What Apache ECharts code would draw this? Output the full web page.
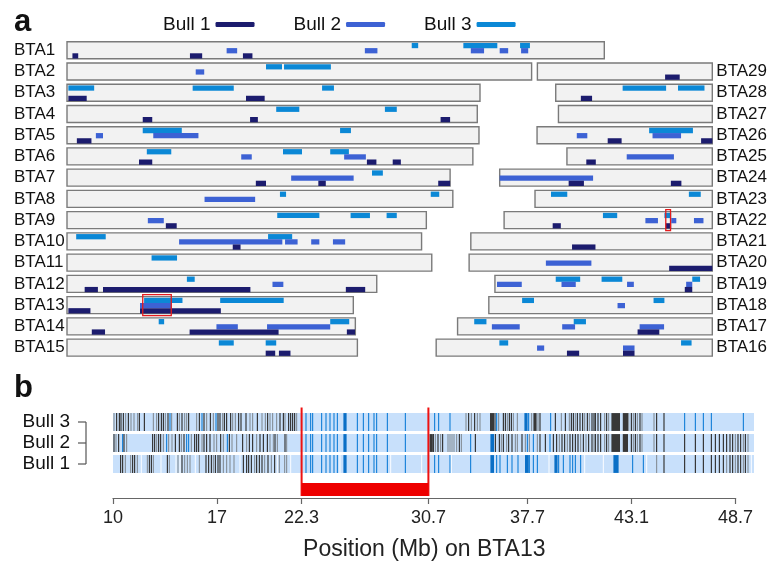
<!DOCTYPE html>
<html><head><meta charset="utf-8">
<script src="https://cdn.jsdelivr.net/npm/echarts@6/dist/echarts.min.js"></script>
<style>html,body{margin:0;padding:0;background:#fff}#c{width:771px;height:562px}</style>
</head><body><div id="c"></div><script>
const FONT = "'Liberation Sans', Arial, Helvetica, sans-serif";

// ---------- panel a data ----------
const chromNames = ['BTA1','BTA2','BTA3','BTA4','BTA5','BTA6','BTA7','BTA8','BTA9','BTA10','BTA11','BTA12','BTA13','BTA14','BTA15','BTA16','BTA17','BTA18','BTA19','BTA20','BTA21','BTA22','BTA23','BTA24','BTA25','BTA26','BTA27','BTA28','BTA29'];
const chromLengths = [158.2,136.8,121.6,120.8,121.3,119.5,112.8,113.6,105.8,104.4,107.4,91.2,84.3,84.9,85.5,81.3,75.0,65.8,64.0,71.6,71.1,61.3,52.2,62.6,42.8,51.6,45.3,46.1,51.5];
const bullNames = ['Bull 1','Bull 2','Bull 3'];
const bullColors = ['#1c1c6e','#3d62d4','#0b88d6'];
// [chromosome, start Mb, end Mb]
const bull1Segments = [
 [1,1.6,3.3],[1,36.2,39.8],[1,51.8,54.6],
 [3,0.4,5.8],[3,52.7,58.2],
 [4,22.3,25.1],[4,53.9,56.2],[4,110.0,112.8],
 [5,2.9,7.2],
 [6,21.2,25.1],[6,88.3,91.1],[6,95.9,98.3],
 [7,55.6,58.6],[7,74.0,76.2],[7,109.3,112.8],
 [9,29.1,32.3],
 [10,48.8,51.1],
 [12,5.2,9.1],[12,10.6,54.0],[12,82.1,87.8],
 [13,0.4,6.9],[13,21.5,45.3],
 [14,7.3,11.2],[14,36.1,62.3],[14,82.4,84.8],
 [15,58.5,61.3],[15,62.4,65.8],
 [16,38.5,42.1],[16,55.0,58.4],
 [17,53.0,59.4],
 [19,55.9,58.1],
 [20,58.9,71.6],
 [21,29.8,36.7],
 [22,14.3,16.7],[22,47.6,49.2],
 [24,20.3,24.8],[24,50.4,53.5],
 [25,5.7,8.5],
 [26,20.8,24.9],[26,48.3,51.6],
 [28,7.4,10.7],
 [29,37.6,41.9]
];
const bull2Segments = [
 [1,47.0,50.1],[1,87.7,91.4],[1,118.9,122.8],[1,127.4,129.9],[1,133.7,135.8],
 [2,37.9,40.4],
 [5,8.5,10.6],[5,25.4,38.7],
 [6,51.3,54.4],[6,81.6,88.0],
 [7,66.0,84.4],
 [8,40.5,55.4],
 [9,23.8,28.5],
 [10,33.0,63.4],[10,64.2,67.9],[10,71.9,74.3],[10,78.3,81.9],
 [12,60.5,63.7],
 [13,21.5,30.8],
 [14,44.0,50.3],[14,58.9,77.5],
 [16,29.7,31.8],[16,55.0,58.4],
 [17,10.1,18.3],[17,30.8,34.6],[17,53.6,60.8],
 [18,37.9,40.1],
 [19,0.6,7.9],[19,19.6,23.8],[19,38.9,40.9],[19,56.3,58.1],
 [20,22.6,36.0],
 [22,41.6,45.3],[22,49.2,50.7],[22,55.9,58.7],
 [24,0,27.5],
 [25,17.6,31.5],
 [26,11.7,14.8],[26,34.0,42.4]
];
const bull3Segments = [
 [1,101.5,103.4],[1,116.7,126.7],[1,133.4,136.3],
 [2,58.6,63.3],[2,63.9,77.7],
 [3,0.4,8.0],[3,37.0,49.1],[3,75.1,78.6],
 [4,61.6,68.4],[4,93.6,97.1],
 [5,22.3,33.8],[5,80.4,83.6],
 [6,23.5,30.7],[6,63.6,69.2],[6,77.5,83.0],
 [7,89.8,93.0],
 [8,62.7,64.5],[8,107.1,109.6],
 [9,61.9,74.3],[9,83.5,89.2],[9,94.1,97.1],
 [10,2.7,11.4],[10,59.2,66.3],
 [11,24.9,32.4],
 [12,35.3,37.6],
 [13,22.7,34.0],[13,45.1,63.8],
 [14,27.0,28.6],[14,77.5,83.1],
 [15,44.7,49.1],[15,58.5,61.6],
 [16,18.6,21.2],[16,72.1,75.2],
 [17,4.9,8.5],[17,34.2,37.8],
 [18,9.8,13.3],[18,48.5,51.7],
 [19,17.9,25.1],[19,31.4,37.5],[19,58.1,60.4],
 [22,29.1,33.3],[22,47.2,49.2],
 [23,4.7,9.5],[23,45.3,48.8],
 [26,33.0,45.9],
 [28,19.7,32.5],[28,36.0,43.8]
];
const highlightRegions = [[13,22.3,30.7],[22,47.6,49.0]];

// ---------- panel b data (marker index along BTA13) ----------
const tickIdx = [0, 52, 94.3, 157.7, 207.3, 259.3, 311.3];
const tickLabels = ['10','17','22.3','30.7','37.7','43.1','48.7'];
const stripEndIdx = 320.5;
const markTypes = ['d','g','b','B','w'];
const roiMarks = [[96.5,'b'],[98.8,'b'],[99.8,'b'],[104.3,'b'],[106.5,'b'],[108.5,'b'],[110.5,'b'],[112.2,'b'],[115.5,116.5,'B'],[122.2,'b'],[125.2,'b'],[127.8,'b'],[130.5,'b'],[131.8,'b'],[137.2,'b'],[146.2,'b']];
const bull3Marks = [[0.5,'g'],[1.8,'d'],[3.2,'d'],[4,'d'],[5.2,'d'],[6.3,'g'],[7.7,'d'],[9,'g'],[10.5,'g'],[12.3,'g'],[13.2,'d'],[15.7,'d'],[20.2,'g'],[21.8,'g'],[22.8,'d'],[24.2,'d'],[25.2,'d'],[26.2,'g'],[27.5,'d'],[28.5,'b'],[29.3,'g'],[32.2,'d'],[33.2,'g'],[34.5,'d'],[35.8,'g'],[36.8,'g'],[37.8,'d'],[41.8,'g'],[43.2,'d'],[44.5,'b'],[45.5,'d'],[46.8,'g'],[48.7,'d'],[50.2,'g'],[51.5,'b'],[52.5,'d'],[53.5,'d'],[54.8,'g'],[55.7,'d'],[56.8,'d'],[58.8,'d'],[59.8,'g'],[61.2,'g'],[62.8,'d'],[64,'d'],[66.5,'d'],[68.5,'g'],[69.8,'g'],[72.2,'d'],[74.5,'g'],[76.2,'g'],[77.3,'d'],[78.5,'g'],[79.8,'g'],[81.8,'g'],[83.5,'d'],[85.2,'d'],[86,'g'],[87.8,'d'],[88.8,'d'],[89.8,'d'],[90.8,'d'],[91.8,'g'],
 [160.8,'b'],[162.8,'b'],[168.5,'b'],[176.5,'g'],[177.8,'d'],[179.2,'g'],[180.8,'d'],[182.2,'g'],[183.5,'g'],[188.8,190.2,'d'],[191,'d'],[191.8,'b'],[192.8,'g'],[195.2,'d'],[196.2,'d'],[197.2,'g'],[198.2,'d'],[199.2,'d'],[200.2,'g'],[202.2,'g'],[206,207,'B'],[207.8,'b'],[209.3,'g'],[210.5,211.5,'d'],[212.5,'g'],[213.5,'d'],[218.8,'b'],[221.2,'d'],[224.2,'g'],[226.2,'d'],[228.2,'g'],[229.2,'d'],[230.2,'d'],[231.2,'g'],[232.2,'d'],[233.5,'d'],[234.8,'d'],[235.8,'g'],[237.2,'d'],[238.2,'g'],[239.5,'d'],[240.5,'d'],
 [241.2,'d'],[242.5,'d'],[243.8,'d'],[245.8,'g'],[246.8,'d'],[247.8,'g'],[249.5,253.2,'d'],[255.2,257.2,'d'],[257.8,'g'],[259.2,'d'],[260.2,'g'],[261.2,'d'],[262.2,'g'],[263.5,'d'],[264.5,'g'],[270.5,'g'],[271.8,'d'],[275.5,'d'],[285.8,'b'],[291.2,'b'],[295.2,'b'],[299.2,'b'],[315.2,'b']];
const bull2Marks = [[0.5,'d'],[1.5,'g'],[2.8,'d'],[4.8,'b'],[5.5,'d'],[6.8,'g'],[19.8,'d'],[20.8,'d'],[21.8,'g'],[22.8,'d'],[23.8,'d'],[25.2,'g'],[26.8,'b'],[27.8,'g'],[29.5,'g'],[31.2,'d'],[33.2,'d'],[34.2,'g'],[35.5,'d'],[36.8,'b'],[37.8,'b'],[39.2,'g'],[40.8,'d'],[41.8,'d'],[42.8,'d'],[44.5,'g'],[45.5,'d'],[46.8,'d'],[48.5,'d'],[50.5,'g'],[51.8,'g'],[53.8,'d'],[55.2,'g'],[57.2,'b'],[58.2,'d'],[59.5,'g'],[61.8,'g'],[64.8,'d'],[66.8,'g'],[68.2,'d'],[69.8,'d'],[71.8,'g'],[73.5,'d'],[75.2,'d'],[77.2,'d'],[78.5,'g'],[80.2,'g'],[81,'d'],[82.2,'g'],[86,'d'],[86.8,'g'],
 [158.6,159.6,'d'],[160.2,'d'],[161.2,'g'],[162.5,'d'],[163.8,'g'],[164.8,'d'],[167.5,'g'],[168.5,'g'],[169.5,'g'],[170.5,'g'],[171.8,'g'],[173.2,'d'],[174.2,'g'],[178.8,'b'],[181.2,'d'],[189,190.2,'B'],[191.2,'d'],[193.2,'d'],[194.2,'g'],[195.2,'d'],[196.8,'g'],[197.8,'d'],[199.5,'d'],[201.2,'g'],[202.2,'g'],[204.5,'d'],[206.2,'g'],[207.2,'b'],[208.2,'g'],[210.2,'b'],[212.2,'g'],[213.5,'d'],[216.2,'d'],[218.5,'b'],[220.2,'d'],[221.8,'d'],[223.2,'g'],[224.5,'d'],[225.8,'d'],[227.2,'g'],[228.5,'d'],[229.8,'d'],[231.2,'d'],[232.5,'d'],[233.8,'g'],[235.2,'d'],[236.5,'g'],[237.8,'d'],[239.5,'d'],[240.5,'g'],
 [241.2,'d'],[242.5,'d'],[243.8,'d'],[245.8,'g'],[246.8,'d'],[247.8,'g'],[249.5,253.2,'d'],[255.2,257.2,'d'],[259.2,'d'],[260.2,'g'],[261.2,'d'],[262.2,'g'],[263.5,'d'],[264.5,'g'],[270.5,'g'],[271.8,'d'],[275.5,'d'],[285.8,'d'],[291.2,'d'],[295.2,'d'],[299.2,'d'],[301.2,'d'],[303.2,'d'],[305.2,'d'],[306.8,'d'],[308.5,'d'],[309.8,'d'],[311.2,'g'],[312.5,'d'],[313.8,'d'],[315.2,'g'],[316.2,'d'],[317.5,'g']];
const bull1Marks = [[3.8,'d'],[4.8,'d'],[6.2,'g'],[8.8,'g'],[9.8,'d'],[10.8,'d'],[12.2,'g'],[14.2,'w'],[17.2,'g'],[18.2,'d'],[19.2,'d'],[20.2,'g'],[24,'w'],[27.2,'d'],[28.2,'g'],[31.5,'w'],[32.5,'g'],[33.5,'w'],[34.5,'d'],[35.8,'g'],[37.2,'g'],[38.5,'g'],[41.2,'w'],[43.2,'g'],[46.5,'d'],[47.8,'d'],[49.2,'d'],[50.2,'g'],[51.2,'d'],[52.5,'d'],[53.5,'d'],[55.2,'g'],[56.8,'g'],[58.5,'g'],[60.5,'g'],[63.5,'w'],[65.2,'d'],[66.8,'d'],[67.8,'d'],[69.2,'d'],[70.8,'g'],[71.8,'d'],[73.2,'d'],[74.5,'d'],[75.8,'g'],[77.5,'d'],[79.2,'g'],[80.8,'d'],[82.2,'w'],[83.2,'g'],[85.8,'g'],[86.8,'g'],[88.8,'w'],
 [113.5,'w'],[138.8,'w'],[154.3,'w'],
 [160.8,'b'],[162.8,'b'],[168.5,'b'],[169.2,'w'],[178.8,'b'],[189,190.2,'B'],[191.8,'b'],[193.5,'b'],[197.2,'b'],[199.5,'b'],[202.5,'b'],[206.3,207.6,'B'],[208.2,'b'],[210.2,'b'],[212.2,'b'],[218,'w'],[221,222,'B'],[222.8,'b'],[225.2,'b'],[228.5,'b'],[229.8,'b'],[231.2,'b'],[233.8,'b'],[235.8,'w'],
 [245.2,'w'],[250.5,252.5,'B'],[259.8,'b'],[265.2,'b'],[266.8,'w'],[271.8,'g'],[275.5,'d'],[285.8,'d'],[291.2,'d'],[295.2,'d'],[299.2,'d'],[301.2,'d'],[303.2,'d'],[305.2,'d'],[306.8,'g'],[308.5,'d'],[309.8,'d'],[311.2,'g'],[312.5,'d'],[313.8,'d'],[315.2,'g'],[316.2,'d'],[317.5,'g'],[319.2,'w']];
const axisTitle = 'Position (Mb) on BTA13';

// ---------- layout helpers ----------
const AXIS_MAX = 190;
function chromLayout(n){ // n: 1-based chromosome number
  const len = chromLengths[n-1];
  if (n <= 15) return {row:n-1, start:0, len};
  return {row:30-n, start:AXIS_MAX-len, len};
}
const leftLabels = chromNames.slice(0,15);
const rightLabels = [''].concat(chromNames.slice(15).reverse());

const markColor = {d:'#383838', g:'#8a949e', b:'#2186da', B:'#0a6fc6', w:'#f3f8ff'};
function buildMarks(list, row){
  return list.map(m => m.length === 2 ? [row, m[0], m[0], markTypes.indexOf(m[1])] : [row, m[0], m[1], markTypes.indexOf(m[2])]);
}
const barcodeData = [].concat(
  buildMarks(bull1Marks.concat(roiMarks), 0),
  buildMarks(bull2Marks.concat(roiMarks), 1),
  buildMarks(bull3Marks.concat(roiMarks), 2)
);

const chart = echarts.init(document.getElementById('c'), null, {renderer:'canvas'});

function chromItem(params, api){
  const L = chromLayout(api.value(0));
  const p0 = api.coord([L.start, L.row]);
  const p1 = api.coord([L.start + L.len, L.row]);
  const band = api.size([0,1])[1];
  const h = band*0.8;
  return {type:'rect', shape:{x:p0[0], y:p0[1]-h/2, width:p1[0]-p0[0], height:h},
    style:{fill:'#f2f2f2', stroke:'#7a7a7a', lineWidth:1.4}};
}
function segItem(lane, color){
  return function(params, api){
    const L = chromLayout(api.value(0));
    const p0 = api.coord([L.start + api.value(1), L.row]);
    const p1 = api.coord([L.start + api.value(2), L.row]);
    const band = api.size([0,1])[1];
    const h = band*0.8;
    const top = p0[1]-h/2 + h*(0.07 + lane*0.305);
    return {type:'rect', shape:{x:p0[0], y:top, width:Math.max(p1[0]-p0[0],1), height:h*0.31},
      style:{fill:color}};
  };
}
function hiItem(params, api){
  const L = chromLayout(api.value(0));
  const p0 = api.coord([L.start + api.value(1), L.row]);
  const p1 = api.coord([L.start + api.value(2), L.row]);
  const band = api.size([0,1])[1];
  const h = band*0.8 + 4;
  return {type:'rect', shape:{x:p0[0], y:p0[1]-h/2, width:p1[0]-p0[0], height:h},
    style:{fill:'none', stroke:'#e41a1c', lineWidth:1.3}};
}
function stripItem(params, api){
  const row = api.value(0);
  const p0 = api.coord([0, row]);
  const p1 = api.coord([stripEndIdx, row]);
  const h = api.size([0,1])[1]*0.85;
  return {type:'rect', shape:{x:p0[0], y:p0[1]-h/2, width:p1[0]-p0[0], height:h}, style:{fill:'#c8e0fb'}};
}
function markItem(params, api){
  const row = api.value(0);
  const a = api.coord([api.value(1), row]);
  const b = api.coord([api.value(2), row]);
  const h = api.size([0,1])[1]*0.85;
  const t = markTypes[api.value(3)];
  const x0 = a[0]-0.6, x1 = b[0]+0.6;
  return {type:'rect', shape:{x:x0, y:a[1]-h/2, width:x1-x0, height:h}, style:{fill:markColor[t]}};
}
function bracketItem(params, api){
  const cs = params.coordSys;
  const ys = [0,1,2].map(r => api.coord([0, r])[1]);
  const xv = cs.x - 27, xt = cs.x - 35;
  const children = ys.map(y => ({type:'line', shape:{x1:xt, y1:y, x2:xv, y2:y}, style:{stroke:'#555', lineWidth:1.2}}));
  children.push({type:'line', shape:{x1:xv, y1:ys[2], x2:xv, y2:ys[0]}, style:{stroke:'#555', lineWidth:1.2}});
  return {type:'group', children};
}
function redItem(params, api){
  const cs = params.coordSys;
  const a = api.coord([api.value(0), 0])[0];
  const b = api.coord([api.value(1), 0])[0];
  const bottom = cs.y + cs.height;
  return {type:'group', children:[
    {type:'line', shape:{x1:a, y1:cs.y+0.5, x2:a, y2:bottom-2}, style:{stroke:'#ee1111', lineWidth:2}},
    {type:'line', shape:{x1:b, y1:cs.y+0.5, x2:b, y2:bottom-2}, style:{stroke:'#ee1111', lineWidth:2}},
    {type:'rect', shape:{x:a, y:bottom-15, width:b-a, height:13}, style:{fill:'#ee0000'}}
  ]};
}

const option = {
  animation:false,
  backgroundColor:'#ffffff',
  textStyle:{fontFamily:FONT},
  legend:{
    data:bullNames, left:163, top:15, padding:0, itemGap:39, itemWidth:39, itemHeight:5,
    icon:'roundRect', align:'right', selectedMode:false,
    textStyle:{fontSize:19, color:'#111', fontFamily:FONT}
  },
  graphic:[
    {type:'text', x:14, y:22, style:{text:'a', fontSize:31, fontWeight:'bold', fontFamily:FONT, fill:'#111', verticalAlign:'middle'}},
    {type:'text', x:14, y:388, style:{text:'b', fontSize:31, fontWeight:'bold', fontFamily:FONT, fill:'#111', verticalAlign:'middle'}}
  ],
  grid:[
    {left:67, top:39.6, width:645.3, height:318.6},
    {left:113, top:411.5, width:641, height:63},
    {left:113, top:407, width:622.6, height:93}
  ],
  xAxis:[
    {gridIndex:0, type:'value', min:0, max:AXIS_MAX, show:false},
    {gridIndex:1, type:'value', min:0, max:stripEndIdx, show:false},
    {gridIndex:2, type:'value', min:0, max:tickIdx[tickIdx.length-1],
     axisLine:{show:true, lineStyle:{color:'#666', width:1.2}},
     axisTick:{show:true, customValues:tickIdx, length:6, lineStyle:{color:'#666', width:1.2}},
     axisLabel:{show:true, customValues:tickIdx, margin:11, fontSize:18, color:'#222', fontFamily:FONT,
       formatter:function(v){ let k=0, best=1e9; tickIdx.forEach((t,i)=>{ if(Math.abs(t-v)<best){best=Math.abs(t-v);k=i;} }); return tickLabels[k]; }},
     splitLine:{show:false},
     name:axisTitle, nameLocation:'middle', nameGap:40,
     nameTextStyle:{fontSize:23, color:'#222', fontFamily:FONT}}
  ],
  yAxis:[
    {gridIndex:0, type:'category', inverse:true, data:leftLabels,
     axisLine:{show:false}, axisTick:{show:false}, splitLine:{show:false},
     axisLabel:{interval:0, align:'left', margin:53, fontSize:17, color:'#111', fontFamily:FONT}},
    {gridIndex:0, type:'category', inverse:true, position:'right', data:rightLabels,
     axisLine:{show:false}, axisTick:{show:false}, splitLine:{show:false},
     axisLabel:{interval:0, align:'left', margin:4, fontSize:17, color:'#111', fontFamily:FONT}},
    {gridIndex:1, type:'category', data:bullNames,
     axisLine:{show:false}, axisTick:{show:false}, splitLine:{show:false},
     axisLabel:{interval:0, margin:43, fontSize:19, color:'#111', fontFamily:FONT}},
    {gridIndex:2, type:'value', min:0, max:1, show:false}
  ],
  series:[
    {type:'custom', name:'chrom', xAxisIndex:0, yAxisIndex:0, renderItem:chromItem, silent:true,
     data:chromNames.map((n,i)=>[i+1])},
    {type:'custom', name:'Bull 3', xAxisIndex:0, yAxisIndex:0, renderItem:segItem(0, bullColors[2]), itemStyle:{color:bullColors[2]}, data:bull3Segments, z:3},
    {type:'custom', name:'Bull 2', xAxisIndex:0, yAxisIndex:0, renderItem:segItem(1, bullColors[1]), itemStyle:{color:bullColors[1]}, data:bull2Segments, z:4},
    {type:'custom', name:'Bull 1', xAxisIndex:0, yAxisIndex:0, renderItem:segItem(2, bullColors[0]), itemStyle:{color:bullColors[0]}, data:bull1Segments, z:5},
    {type:'custom', name:'hi', xAxisIndex:0, yAxisIndex:0, renderItem:hiItem, data:highlightRegions, z:6},
    {type:'custom', name:'strip', xAxisIndex:1, yAxisIndex:2, renderItem:stripItem, data:[[0],[1],[2]], z:2},
    {type:'custom', name:'marks', xAxisIndex:1, yAxisIndex:2, renderItem:markItem, data:barcodeData, z:3},
    {type:'custom', name:'bracket', xAxisIndex:1, yAxisIndex:2, renderItem:bracketItem, data:[[0]], z:3},
    {type:'custom', name:'roi', xAxisIndex:2, yAxisIndex:3, renderItem:redItem, data:[[tickIdx[2], tickIdx[3]]], z:8}
  ]
};
chart.setOption(option);
</script></body></html>
